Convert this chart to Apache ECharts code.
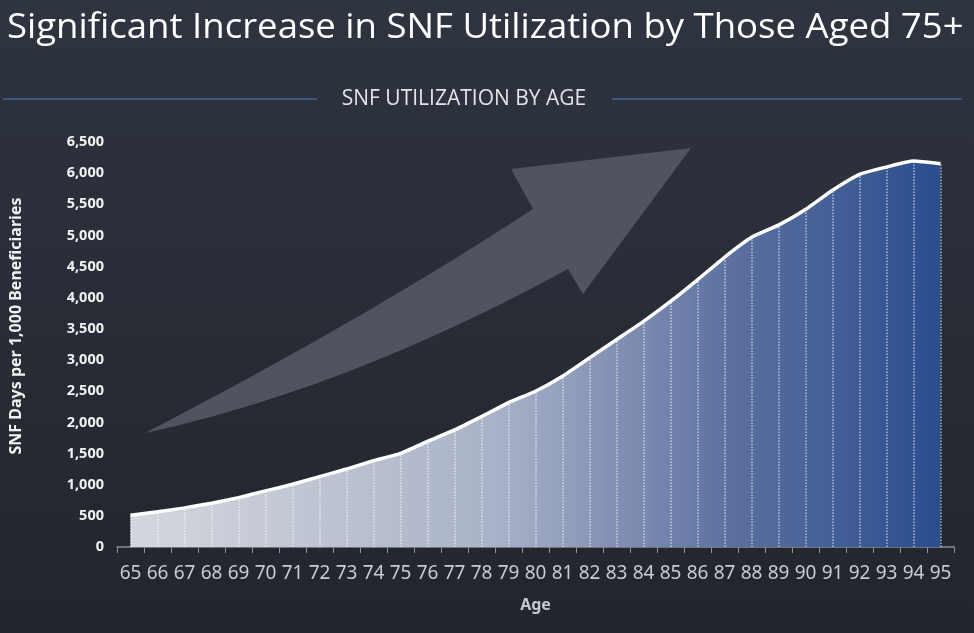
<!DOCTYPE html>
<html>
  <head>
      <meta charset="utf-8">
      <script src="https://cdn.jsdelivr.net/npm/echarts@6/dist/echarts.min.js"></script>
      <style>
        html, body { margin: 0; padding: 0; background: #2a2f38; }
      </style>
  </head>
  <body>
    <div id="main" style="width: 974px;height:633px;"></div>
    <script type="text/javascript">
        // ages on the x axis
        var ages = ['65','66','67','68','69','70','71','72','73','74','75','76','77','78','79',
                    '80','81','82','83','84','85','86','87','88','89','90','91','92','93','94','95'];
        // SNF days per 1,000 beneficiaries
        var snfDays = [510, 565, 628, 703, 793, 900, 1007, 1129, 1251, 1384, 1502, 1694, 1879, 2093, 2317,
                       2500, 2742, 3036, 3329, 3621, 3941, 4288, 4650, 4970, 5166, 5417, 5726, 5982, 6099, 6194, 6152];
        var yMax = 6500;
        var yStep = 500;

        var myChart = echarts.init(document.getElementById('main'));

        // dotted drop line from the axis up to each point
        var dropLines = snfDays.map(function (v, i) {
            return [{coord: [i, 0]}, {coord: [i, v]}];
        });

        // decorative background arrow, two curved edges sampled as a polygon
        function quad(p0, c, p1, n) {
            var pts = [];
            for (var i = 0; i <= n; i++) {
                var t = i / n, u = 1 - t;
                pts.push([u * u * p0[0] + 2 * u * t * c[0] + t * t * p1[0],
                          u * u * p0[1] + 2 * u * t * c[1] + t * t * p1[1]]);
            }
            return pts;
        }
        var arrowPts = quad([145, 433], [365, 319], [533, 209], 24)
            .concat([[511, 169], [691, 148], [583, 294]])
            .concat(quad([568, 269], [348, 389], [145, 433], 24));

        var option = {
            backgroundColor: {
                type: 'linear', x: 0, y: 0, x2: 0, y2: 1,
                colorStops: [
                    {offset: 0, color: '#2e3440'},
                    {offset: 1, color: '#22252c'}
                ]
            },
            textStyle: {fontFamily: 'Noto Sans'},
            graphic: [
                {
                    type: 'text',
                    x: 7, y: 28,
                    scaleX: 1.075,
                    style: {
                        text: 'Significant Increase in SNF Utilization by Those Aged 75+',
                        fill: '#ffffff',
                        font: '500 34px "Open Sans"',
                        verticalAlign: 'middle'
                    }
                },
                {
                    type: 'text',
                    x: 464, y: 99,
                    style: {
                        text: 'SNF UTILIZATION BY AGE',
                        fill: '#e2e4e8',
                        font: '21px "Open Sans"',
                        align: 'center',
                        verticalAlign: 'middle'
                    }
                },
                {type: 'line', shape: {x1: 3, y1: 99, x2: 317, y2: 99}, style: {stroke: '#3f5682', lineWidth: 2}},
                {type: 'line', shape: {x1: 612, y1: 99, x2: 962, y2: 99}, style: {stroke: '#3f5682', lineWidth: 2}},
                {
                    type: 'polygon',
                    z: 0,
                    shape: {points: arrowPts},
                    style: {fill: '#4f545e'}
                },
                {
                    type: 'text',
                    x: 16, y: 326,
                    rotation: Math.PI / 2,
                    style: {
                        text: 'SNF Days per 1,000 Beneficiaries',
                        fill: '#f2f2f2',
                        font: 'bold 16px "Noto Sans"',
                        align: 'center',
                        verticalAlign: 'middle'
                    }
                }
            ],
            grid: {
                left: 117,
                right: 20,
                top: 142,
                bottom: 86
            },
            xAxis: {
                type: 'category',
                data: ages,
                boundaryGap: true,
                name: 'Age',
                nameLocation: 'middle',
                nameGap: 50,
                nameTextStyle: {color: '#c4c8ce', fontSize: 16, fontWeight: 'bold'},
                axisLine: {lineStyle: {color: '#8a8f98', width: 1.5}},
                axisTick: {show: true, length: 6, lineStyle: {color: '#8a8f98'}},
                axisLabel: {color: '#c8ccd2', fontSize: 19, margin: 17, interval: 0}
            },
            yAxis: {
                type: 'value',
                min: 0,
                max: yMax,
                interval: yStep,
                axisLine: {show: false},
                axisTick: {show: false},
                splitLine: {show: false},
                axisLabel: {
                    color: '#f2f2f2',
                    fontSize: 14.5,
                    fontWeight: 'bold',
                    margin: 13,
                    formatter: function (v) { return v.toLocaleString('en-US'); }
                }
            },
            series: [{
                type: 'line',
                data: snfDays,
                symbol: 'none',
                smooth: 0.15,
                z: 3,
                lineStyle: {color: '#ffffff', width: 3.5},
                areaStyle: {
                    opacity: 1,
                    color: {
                        type: 'linear', x: 0, y: 0, x2: 1, y2: 0,
                        colorStops: [
                            {offset: 0, color: '#d4d7dd'},
                            {offset: 0.45, color: '#a9b2c8'},
                            {offset: 0.75, color: '#5a6f9f'},
                            {offset: 1, color: '#2a4d8e'}
                        ]
                    }
                },
                markLine: {
                    silent: true,
                    animation: false,
                    symbol: ['none', 'none'],
                    label: {show: false},
                    lineStyle: {color: 'rgba(255,255,255,0.6)', type: 'dotted', width: 1.5},
                    data: dropLines
                }
            }],
            animation: false
        };
        myChart.setOption(option);
    </script>
  </body>
</html>
